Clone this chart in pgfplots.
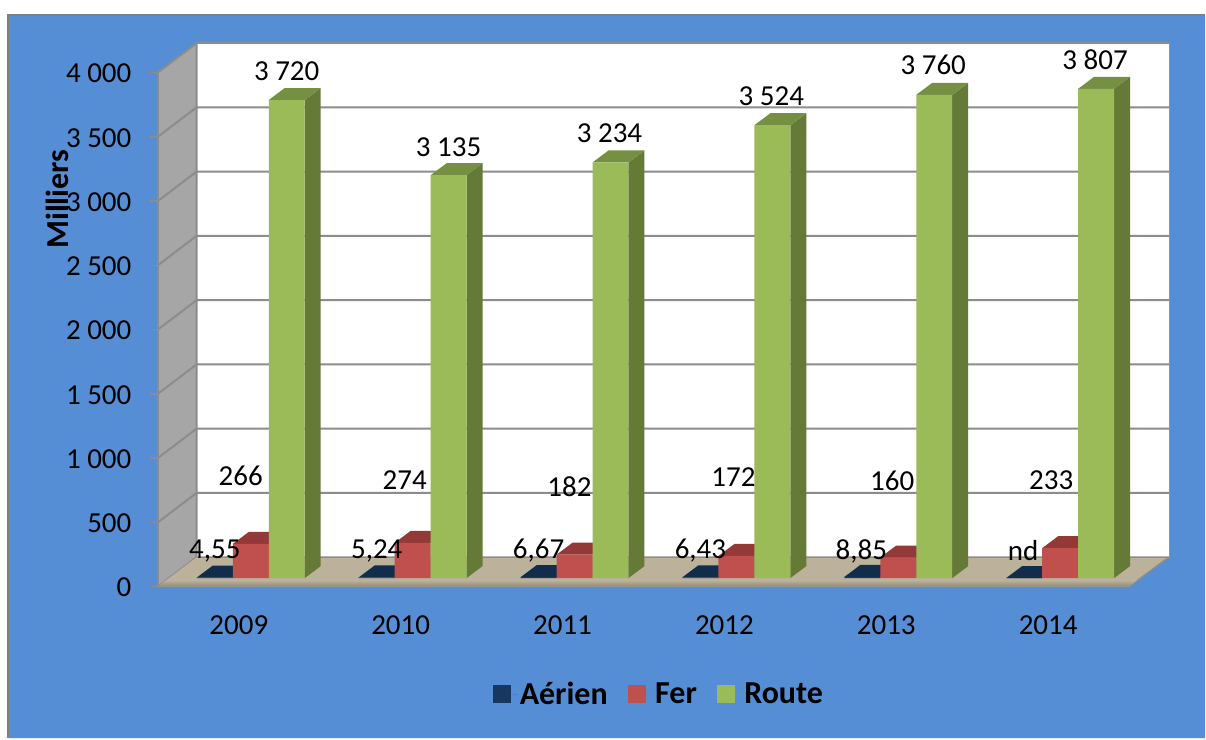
\documentclass[border=0pt]{standalone}
\usepackage{pgfplots}
\usepackage{fontspec}
\setmainfont{Carlito}
\pgfplotsset{compat=1.18}
\definecolor{panel}{HTML}{558ED5}
\definecolor{border}{HTML}{7F7F7F}
\definecolor{gridc}{HTML}{8C8C8C}
\definecolor{wall}{HTML}{A6A6A6}
\definecolor{floorc}{HTML}{BCB29B}
\definecolor{floord}{HTML}{8E8A7A}
\definecolor{navyF}{HTML}{17375E}
\definecolor{navyT}{HTML}{122C4C}
\definecolor{redF}{HTML}{C0504D}
\definecolor{redT}{HTML}{933A38}
\definecolor{redS}{HTML}{7F2F2D}
\definecolor{greenF}{HTML}{9BBB59}
\definecolor{greenT}{HTML}{759043}
\definecolor{greenS}{HTML}{667A37}
% x-left offset of the front face inside a group, bar width, depth, base
\newcommand\bw{0.2222}
\newcommand\dpx{0.0988}
\newcommand\dpv{93.4}
\newcommand\basev{66}
\newcommand\threedbar[6]{% group, offset, value, front, top, side
  \pgfmathsetmacro\xa{#1+#2}%
  \pgfmathsetmacro\xb{\xa+\bw}%
  \pgfmathsetmacro\xc{\xb+\dpx}%
  \pgfmathsetmacro\xd{\xa+\dpx}%
  \pgfmathsetmacro\yb{\basev}%
  \pgfmathsetmacro\yt{\basev+#3}%
  \pgfmathsetmacro\ybb{\yb+\dpv}%
  \pgfmathsetmacro\ytb{\yt+\dpv}%
  \edef\tmp{\noexpand\addplot[fill=#6,draw=none,forget plot] coordinates {(\xb,\yb) (\xc,\ybb) (\xc,\ytb) (\xb,\yt) (\xb,\yb)};
  \noexpand\addplot[fill=#5,draw=none,forget plot] coordinates {(\xa,\yt) (\xb,\yt) (\xc,\ytb) (\xd,\ytb) (\xa,\yt)};
  \noexpand\addplot[fill=#4,draw=none,forget plot] coordinates {(\xa,\yb) (\xb,\yb) (\xb,\yt) (\xa,\yt) (\xa,\yb)};}%
  \tmp}
\newcommand\groupbars[4]{% group, air, rail, road
  \threedbar{#1}{-0.2593}{#2}{navyF}{navyT}{navyT}
  \threedbar{#1}{-0.0370}{#3}{redF}{redT}{redS}
  \threedbar{#1}{0.1852}{#4}{greenF}{greenT}{greenS}}
\newcommand\gridrow[1]{%
  \pgfmathsetmacro\yf{#1}\pgfmathsetmacro\yk{#1+229.6}%
  \edef\tmp{\noexpand\addplot[draw=gridc,line width=2pt,forget plot] coordinates {(-0.5,\yf) (-0.26,\yk) (5.747,\yk)};}\tmp}
\begin{document}
\begin{tikzpicture}
\begin{axis}[
  scale only axis, width=972pt, height=514.5pt,
  xmin=-0.5, xmax=5.5, ymin=0, ymax=4000,
  clip=false, axis on top,
  axis line style={draw=none},
  axis x line*=bottom, axis y line*=left,
  xtick={0,1,2,3,4,5},
  xticklabels={2009,2010,2011,2012,2013,2014},
  ytick={0,500,1000,1500,2000,2500,3000,3500,4000},
  yticklabels={0,500,1 000,1 500,2 000,2 500,3 000,3 500,4 000},
  x tick style={draw=none},
  y tick style={draw=gridc,line width=1.5pt},
  tick align=outside,
  major tick length=8pt,
  tick label style={font=\fontsize{29}{31}\selectfont},
  /pgf/number format/assume math mode=true,
  yticklabel style={xshift=-15pt,yshift=-1pt},
  xticklabel style={yshift=-18pt},
  ylabel={Milliers},
  every axis y label/.style={at={(axis cs:-1.123,3015)},rotate=90,anchor=center,font=\fontsize{32}{34}\selectfont\bfseries},
  legend entries={Aérien,Fer,Route},
  legend columns=3,
  legend style={at={(axis cs:2.595,-836.6)},anchor=center,draw=none,fill=none,
    font=\fontsize{32}{34}\selectfont\bfseries,
    /tikz/every even column/.append style={column sep=18.5pt}},
  legend cell align=left,
  legend image code/.code={\fill[draw=none,#1] (0pt,-9pt) rectangle (18pt,9pt);\path[draw=none] (0pt,0pt) -- (25pt,0pt);},
]
\addlegendimage{fill=navyF}
\addlegendimage{fill=redF}
\addlegendimage{fill=greenF}
% page and panel
\addplot[fill=white,draw=none,forget plot] coordinates {(-1.4753,4564.2) (5.9691,4564.2) (5.9691,-1179) (-1.4753,-1179) (-1.4753,4564.2)};
\addplot[fill=panel,draw=none,forget plot] coordinates {(-1.4259,4447.5) (5.9691,4447.5) (5.9691,-1179) (-1.4259,-1179) (-1.4259,4447.5)};
\addplot[draw=border,line width=2pt,forget plot] coordinates {(-1.4259,-1179) (-1.4259,4447.5) (5.9691,4447.5)};
% walls and floor
\addplot[fill=white,draw=none,forget plot] coordinates {(-0.26,229.6) (5.747,229.6) (5.747,4229.6) (-0.26,4229.6) (-0.26,229.6)};
\addplot[fill=wall,draw=gridc,line width=2pt,forget plot] coordinates {(-0.5,0) (-0.5,4000) (-0.26,4229.6) (-0.26,229.6) (-0.5,0)};
\addplot[draw=gridc,line width=2pt,forget plot] coordinates {(-0.26,4229.6) (5.747,4229.6)};
\gridrow{500}\gridrow{1000}\gridrow{1500}\gridrow{2000}\gridrow{2500}\gridrow{3000}\gridrow{3500}
\addplot[fill=floorc,draw=none,forget plot] coordinates {(-0.5,0) (5.5,0) (5.747,229.6) (-0.26,229.6) (-0.5,0)};
\addplot[draw=gridc,line width=1.5pt,forget plot] coordinates {(-0.26,229.6) (5.747,229.6) (5.5,0)};
\addplot[top color=floorc,bottom color=floord,draw=none,forget plot] coordinates {(-0.5,0) (5.5,0) (5.55,50) (-0.45,50) (-0.5,0)};
% bars: group, Aerien, Fer, Route (thousands)
\groupbars{0}{4.55}{266}{3720}
\groupbars{1}{5.24}{274}{3135}
\groupbars{2}{6.67}{182}{3234}
\groupbars{3}{6.43}{172}{3524}
\groupbars{4}{8.85}{160}{3760}
\groupbars{5}{0}{233}{3807}
% data labels
\addplot[only marks,mark=none,draw=none,forget plot,point meta=explicit symbolic,
  nodes near coords={\pgfplotspointmeta},
  nodes near coords style={anchor=center,font=\fontsize{29}{31}\selectfont,inner sep=0pt,text=black}] coordinates {
 (0.296,4012) [3 720] (1.296,3420) [3 135] (2.290,3529) [3 234]
 (3.290,3817) [3 524] (4.290,4058) [3 760] (5.290,4097) [3 807]
 (0.012,860) [266] (1.025,829) [274] (2.043,774) [182]
 (3.056,852) [172] (4.037,821) [160] (5.019,829) [233]
 (-0.148,277) [{4,55}] (0.852,277) [{5,24}] (1.852,277) [{6,67}]
 (2.852,277) [{6,43}] (3.846,277) [{8,85}] (4.846,277) [nd]
};
\end{axis}
\end{tikzpicture}
\end{document}
